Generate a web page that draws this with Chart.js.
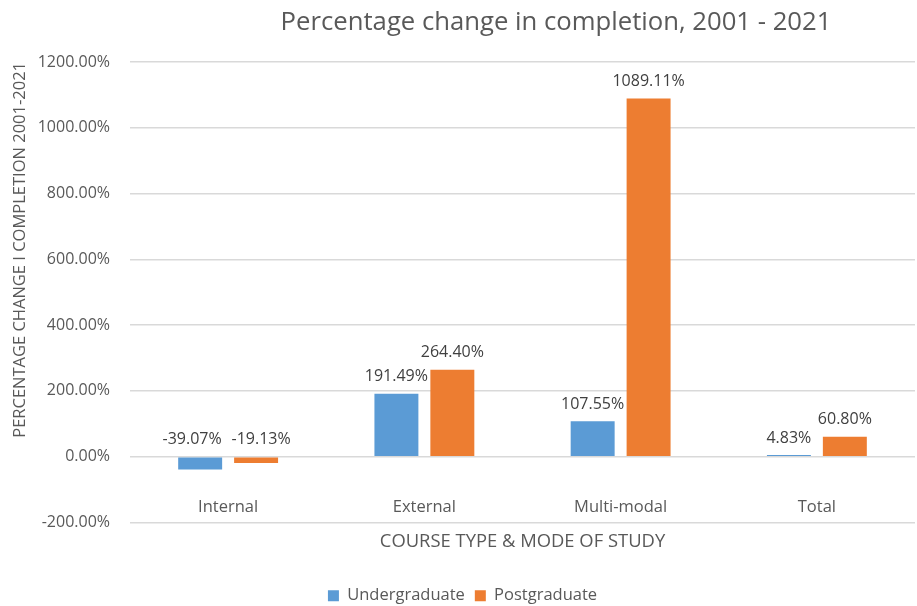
<!DOCTYPE html>
<html>
<head>
<meta charset="utf-8">
<script src="https://cdn.jsdelivr.net/npm/chart.js@4/dist/chart.umd.min.js"></script>
<style>
  html, body { margin: 0; padding: 0; background: #fff; }
  #wrap { width: 917px; height: 606px; position: relative; }
</style>
</head>
<body>
<div id="wrap"><canvas id="completionChart"></canvas></div>
<script>
// データ
const categories = ['Internal', 'External', 'Multi-modal', 'Total'];
const undergraduate = [-39.07, 191.49, 107.55, 4.83];
const postgraduate = [-19.13, 264.40, 1089.11, 60.80];
const yTicks = [-200, 0, 200, 400, 600, 800, 1000, 1200];

const FONT = "'Open Sans', 'Liberation Sans', sans-serif";
const GREY = '#595959';

// タイトル・カテゴリ名・データラベルを描く
const labelPlugin = {
  id: 'labelPlugin',
  afterDatasetsDraw(chart) {
    const ctx = chart.ctx;
    const x = chart.scales.x;
    const y = chart.scales.y;
    ctx.save();

    // タイトル
    ctx.fillStyle = GREY;
    ctx.font = '25.7px ' + FONT;
    ctx.textAlign = 'center';
    ctx.textBaseline = 'middle';
    ctx.fillText('Percentage change in completion, 2001 - 2021', 556, 23);

    // カテゴリ名（-200線の少し上）
    ctx.font = '16.5px ' + FONT;
    ctx.fillStyle = GREY;
    const catY = y.getPixelForValue(-200) - 15;
    categories.forEach((c, i) => {
      ctx.fillText(c, x.getPixelForValue(i), catY);
    });

    // データラベル（負の値は0線の上、重ならないよう左右にずらす）
    ctx.font = '16px ' + FONT;
    ctx.fillStyle = '#404040';
    ctx.textBaseline = 'bottom';
    chart.data.datasets.forEach((ds, di) => {
      const meta = chart.getDatasetMeta(di);
      meta.data.forEach((bar, i) => {
        const v = ds.data[i];
        const top = y.getPixelForValue(Math.max(v, 0));
        const shift = v < 0 ? (di === 0 ? -8 : 5) : 0;
        ctx.fillText(v.toFixed(2) + '%', bar.x + shift, top - 9);
      });
    });
    ctx.restore();
  }
};

const ctx = document.getElementById('completionChart');
new Chart(ctx, {
  type: 'bar',
  data: {
    labels: categories,
    datasets: [
      {
        label: 'Undergraduate',
        data: undergraduate,
        backgroundColor: '#5B9BD5',
        categoryPercentage: 0.57,
        barPercentage: 0.786
      },
      {
        label: 'Postgraduate',
        data: postgraduate,
        backgroundColor: '#ED7D31',
        categoryPercentage: 0.57,
        barPercentage: 0.786
      }
    ]
  },
  options: {
    responsive: true,
    maintainAspectRatio: false,
    animation: false,
    layout: {
      padding: { top: 62, right: 2, left: 10, bottom: -8 }
    },
    plugins: {
      legend: {
        position: 'bottom',
        labels: {
          boxWidth: 11,
          boxHeight: 11,
          color: GREY,
          font: { family: FONT, size: 16.5 },
          padding: 10
        }
      },
      tooltip: { enabled: false }
    },
    scales: {
      x: {
        grid: { display: false },
        border: { display: false },
        ticks: { display: false },
        title: {
          display: true,
          text: 'COURSE TYPE & MODE OF STUDY',
          color: GREY,
          font: { family: FONT, size: 18.4 },
          padding: { top: 0, bottom: 25 }
        }
      },
      y: {
        min: -200,
        max: 1200,
        afterBuildTicks(axis) {
          axis.ticks = yTicks.map(v => ({ value: v }));
        },
        afterFit(axis) {
          axis.width = 120;
        },
        grid: { color: '#D9D9D9', lineWidth: 1.5, drawTicks: false },
        border: { display: false },
        ticks: {
          color: GREY,
          padding: 20,
          font: { family: FONT, size: 16 },
          callback: function(value) {
            return value.toFixed(2) + '%';
          }
        },
        title: {
          display: true,
          text: 'PERCENTAGE CHANGE I COMPLETION 2001-2021',
          color: GREY,
          align: 'end',
          font: { family: FONT, size: 16.5 },
          padding: { top: 0, bottom: 0 }
        }
      }
    }
  },
  plugins: [labelPlugin]
});
</script>
</body>
</html>
